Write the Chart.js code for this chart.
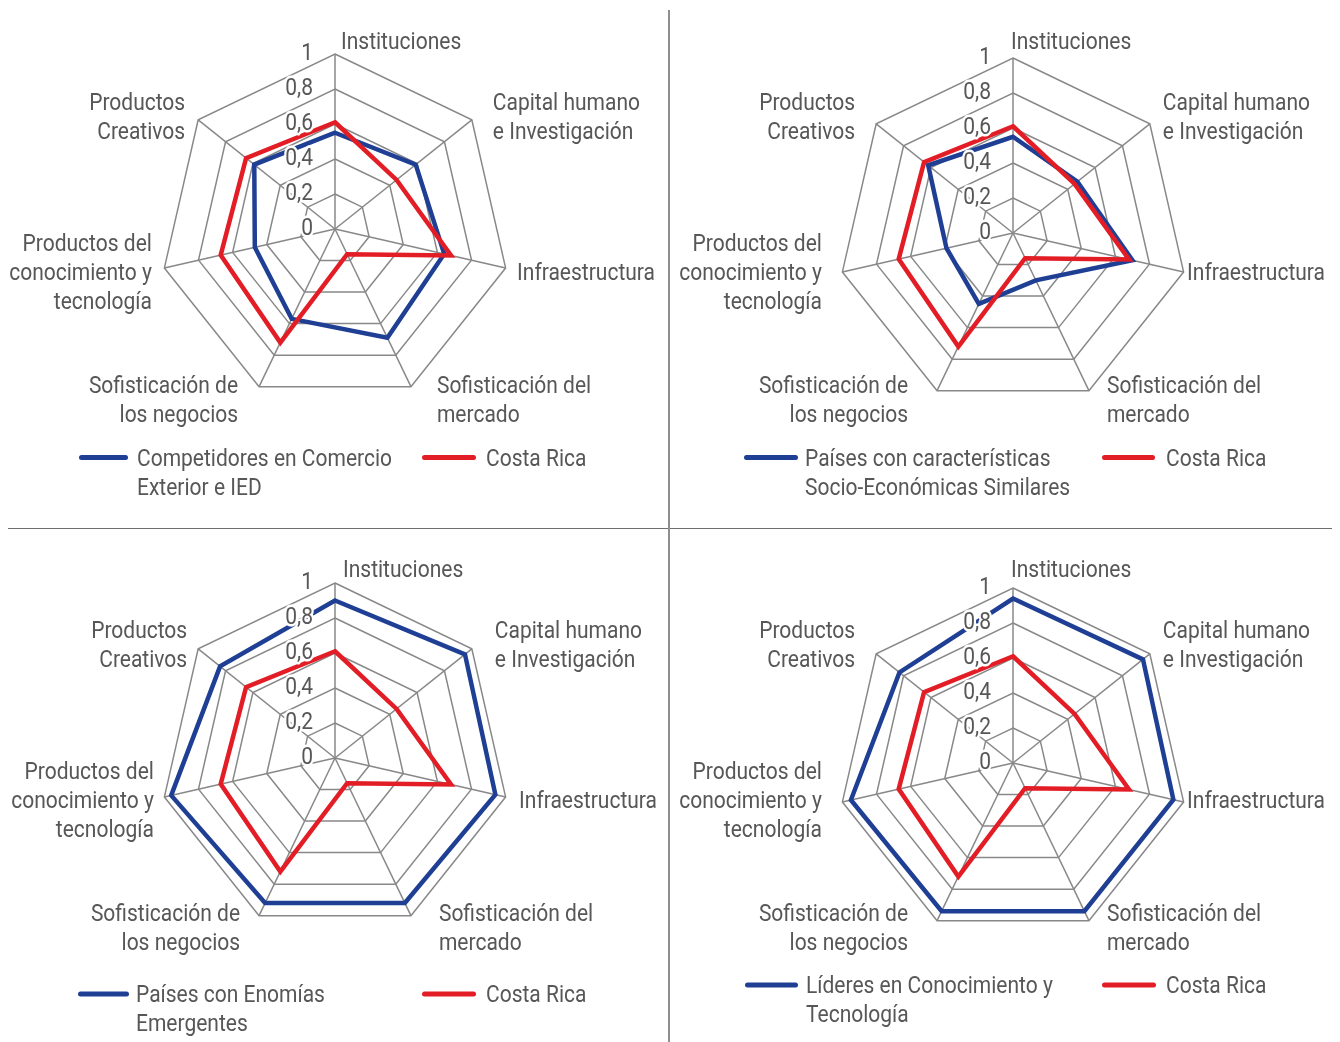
<!DOCTYPE html>
<html>
<head>
<meta charset="utf-8">
<title>Pilares de innovación: Costa Rica frente a grupos de referencia</title>
<script src="https://cdn.jsdelivr.net/npm/chart.js@4.4.1/dist/chart.umd.min.js"></script>
<style>
  html, body { margin: 0; padding: 0; background: #ffffff; }
  #page { position: relative; width: 1340px; height: 1042px; overflow: hidden; background: #ffffff; }
  #page canvas { position: absolute; left: 0; top: 0; }
  .rule-h { position: absolute; left: 8px; top: 527.5px; width: 1324px; height: 1.6px; background: #6f6f6f; }
  .rule-v { position: absolute; left: 668px; top: 10px; width: 2px; height: 1032px; background: #8f8f8f; }
</style>
</head>
<body>
<div id="page">
  <div class="rule-h"></div>
  <div class="rule-v"></div>
  <canvas id="c1" width="1340" height="1042"></canvas>
  <canvas id="c2" width="1340" height="1042"></canvas>
  <canvas id="c3" width="1340" height="1042"></canvas>
  <canvas id="c4" width="1340" height="1042"></canvas>
</div>
<script>
// ---- Data -------------------------------------------------------------
const categories = [
  ['Instituciones'],
  ['Capital humano', 'e Investigación'],
  ['Infraestructura'],
  ['Sofisticación del', 'mercado'],
  ['Sofisticación de', 'los negocios'],
  ['Productos del', 'conocimiento y', 'tecnología'],
  ['Productos', 'Creativos']
];

const tickLabels = ['0', '0,2', '0,4', '0,6', '0,8', '1'];

const costaRica    = [0.61, 0.45, 0.68, 0.16, 0.72, 0.67, 0.65];
const competidores = [0.55, 0.59, 0.64, 0.69, 0.57, 0.47, 0.59];
const similares    = [0.55, 0.47, 0.70, 0.30, 0.45, 0.39, 0.62];
const emergentes   = [0.90, 0.95, 0.94, 0.92, 0.92, 0.96, 0.84];
const lideres      = [0.94, 0.95, 0.94, 0.94, 0.94, 0.95, 0.83];

const nameCostaRica    = ['Costa Rica'];
const nameCompetidores = ['Competidores en Comercio', 'Exterior e IED'];
const nameSimilares    = ['Países con características', 'Socio-Económicas Similares'];
const nameEmergentes   = ['Países con Enomías', 'Emergentes'];
const nameLideres      = ['Líderes en Conocimiento y', 'Tecnología'];

// ---- Styling ----------------------------------------------------------
const BLUE = '#1f3f94';
const RED = '#e31d25';
const GRID = '#888888';
const TEXT = '#575757';
const FONT_PX = 24;
const FONT = FONT_PX + 'px Roboto, "Noto Sans", sans-serif';
const NARROW = 0.875;    // horizontal squeeze for a condensed look
const TEXT_DY = 2;       // optical centring of text on its anchor
const LINE_GAP = 29;     // line height of wrapped labels
const RADIUS = 175;

// label anchor relative to each spoke end: [align, dx, dy of block centre]
const LABEL_PLACE = [
  ['left', 6, -13],
  ['left', 21, -3.5],
  ['left', 11.5, 4],
  ['left', 26, 12.5],
  ['right', -21, 12.5],
  ['right', -12.5, 4],
  ['right', -13, -3.5]
];

const PANELS = [
  { id: 'c1', center: [335, 229], shift: [0, 0], values: competidores, name: nameCompetidores,
    legend: { y: 457.5, items: [[79, 128, 137], [422, 476, 486]] } },
  { id: 'c2', center: [1013, 233], shift: [8, 4], values: similares, name: nameSimilares,
    legend: { y: 457.5, items: [[744, 798, 805], [1102, 1155, 1166]] } },
  { id: 'c3', center: [335, 758], shift: [-2, 1], values: emergentes, name: nameEmergentes,
    legend: { y: 994, items: [[78, 129, 136], [422, 476, 486]] } },
  { id: 'c4', center: [1013, 763], shift: [8, 6], values: lideres, name: nameLideres,
    legend: { y: 985, items: [[745, 798, 806], [1102, 1156, 1166]] } }
];

function drawText(ctx, text, x, y, align, halo) {
  ctx.save();
  ctx.translate(x, y + TEXT_DY);
  ctx.scale(NARROW, 1);
  ctx.textAlign = align;
  if (halo) {
    ctx.strokeStyle = '#ffffff';
    ctx.lineWidth = 5;
    ctx.lineJoin = 'round';
    ctx.strokeText(text, 0, 0);
  }
  ctx.fillText(text, 0, 0);
  ctx.restore();
}

// Tick values, axis names and the legend, drawn on top of the radar
const radarText = {
  id: 'radarText',
  afterDatasetsDraw(chart, args, opts) {
    const ctx = chart.ctx;
    const r = chart.scales.r;
    ctx.save();
    ctx.font = FONT;
    ctx.fillStyle = TEXT;
    ctx.textBaseline = 'middle';

    r.ticks.forEach((t) => {
      const y = r.yCenter - r.getDistanceFromCenterForValue(t.value) - 2;
      drawText(ctx, t.label, r.xCenter - 22, y, 'right', true);
    });

    chart.data.labels.forEach((lines, i) => {
      const p = r.getPointPosition(i, r.drawingArea);
      const [align, dx, dy] = LABEL_PLACE[i];
      const x = p.x - opts.shift[0] + dx;
      const yMid = p.y - opts.shift[1] + dy;
      const y0 = yMid - (lines.length - 1) * LINE_GAP / 2;
      lines.forEach((s, k) => drawText(ctx, s, x, y0 + k * LINE_GAP, align, false));
    });

    const lg = opts.legend;
    chart.data.datasets.forEach((ds, i) => {
      const [x0, x1, tx] = lg.items[i];
      ctx.save();
      ctx.strokeStyle = ds.borderColor;
      ctx.lineWidth = 5;
      ctx.lineCap = 'round';
      ctx.beginPath();
      ctx.moveTo(x0 + 2.5, lg.y);
      ctx.lineTo(x1 - 2.5, lg.y);
      ctx.stroke();
      ctx.restore();
      ds.legendLines.forEach((s, k) => drawText(ctx, s, tx, lg.y + k * LINE_GAP, 'left', false));
    });
    ctx.restore();
  }
};

PANELS.forEach((panel) => {
  const [cx, cy] = panel.center;
  new Chart(document.getElementById(panel.id), {
    type: 'radar',
    data: {
      labels: categories,
      datasets: [
        {
          label: panel.name.join(' '),
          legendLines: panel.name,
          data: panel.values,
          borderColor: BLUE,
          order: 2
        },
        {
          label: nameCostaRica.join(' '),
          legendLines: nameCostaRica,
          data: costaRica,
          borderColor: RED,
          order: 1
        }
      ]
    },
    plugins: [radarText],
    options: {
      responsive: false,
      animation: false,
      events: [],
      layout: {
        padding: {
          left: cx - RADIUS,
          right: 1340 - cx - RADIUS,
          top: cy - RADIUS,
          bottom: 1042 - cy - RADIUS
        }
      },
      elements: {
        line: { borderWidth: 4.5, tension: 0, fill: false, borderJoinStyle: 'miter' },
        point: { radius: 0, hoverRadius: 0 }
      },
      scales: {
        r: {
          min: 0,
          max: 1,
          ticks: {
            display: false,
            stepSize: 0.2,
            callback: (v, i) => tickLabels[i]
          },
          pointLabels: { display: false },
          grid: { color: GRID, lineWidth: 1.5 },
          angleLines: { color: GRID, lineWidth: 1.5 }
        }
      },
      plugins: {
        legend: { display: false },
        tooltip: { enabled: false },
        radarText: { shift: panel.shift, legend: panel.legend }
      }
    }
  });
});
</script>
</body>
</html>
